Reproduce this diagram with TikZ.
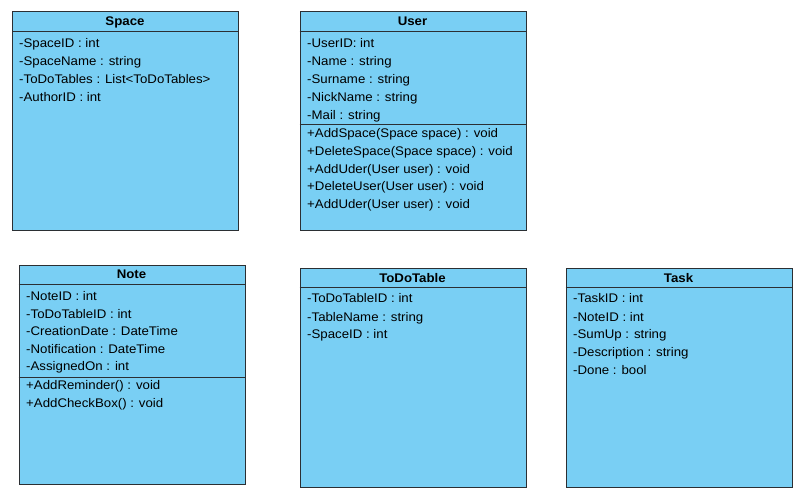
\documentclass[tikz,border=0pt]{standalone}
\usepackage{fontspec}
\setmainfont{Liberation Sans}[FakeStretch=1.06]
\definecolor{boxfill}{HTML}{79CFF4}
\definecolor{boxline}{HTML}{2B2F33}
\begin{document}
\begin{tikzpicture}[x=1pt,y=-1pt,
  classbox/.style={draw=boxline, fill=boxfill, line width=1pt, rectangle, anchor=north west, inner sep=0pt},
  sepline/.style={draw=boxline, line width=1pt},
  attr/.style={anchor=base west, inner sep=0pt, font=\fontsize{12.5}{14}\selectfont},
  title/.style={anchor=base, inner sep=0pt, font=\fontsize{12.5}{14}\selectfont\bfseries}]
\useasboundingbox (0,0) rectangle (805,499);
\fill[white] (0,0) rectangle (805,499);

% Space
\node[classbox, minimum width=226pt, minimum height=219pt] (space) at (12,11) {};
\draw[sepline] ([yshift=-20.5pt]space.north west) -- ([yshift=-20.5pt]space.north east);
\node[title] (spaceT) at (125,25) {Space};
\node[attr] (s1) at (19,47) {-SpaceID : int};
\node[attr] (s2) at (19,65) {-SpaceName : string};
\node[attr] (s3) at (19,83) {-ToDoTables : List<ToDoTables>};
\node[attr] (s4) at (19,101) {-AuthorID : int};

% User
\node[classbox, minimum width=226pt, minimum height=219pt] (user) at (299.5,11) {};
\draw[sepline] ([yshift=-20.5pt]user.north west) -- ([yshift=-20.5pt]user.north east);
\draw[sepline] ([yshift=-113pt]user.north west) -- ([yshift=-113pt]user.north east);
\node[title] (userT) at (412.5,25) {User};
\node[attr] (u1) at (307,47) {-UserID: int};
\node[attr] (u2) at (307,65) {-Name : string};
\node[attr] (u3) at (307,83) {-Surname : string};
\node[attr] (u4) at (307,101) {-NickName : string};
\node[attr] (u5) at (307,119) {-Mail : string};
\node[attr] (u6) at (307,137) {+AddSpace(Space space) : void};
\node[attr] (u7) at (307,155) {+DeleteSpace(Space space) : void};
\node[attr] (u8) at (307,173) {+AddUder(User user) : void};
\node[attr] (u9) at (307,190.5) {+DeleteUser(User user) : void};
\node[attr] (u10) at (307,208.5) {+AddUder(User user) : void};

% Note
\node[classbox, minimum width=226pt, minimum height=219pt] (note) at (18.5,264.5) {};
\draw[sepline] ([yshift=-20pt]note.north west) -- ([yshift=-20pt]note.north east);
\draw[sepline] ([yshift=-113pt]note.north west) -- ([yshift=-113pt]note.north east);
\node[title] (noteT) at (131.5,278) {Note};
\node[attr] (n1) at (26,300) {-NoteID : int};
\node[attr] (n2) at (26,318) {-ToDoTableID : int};
\node[attr] (n3) at (26,335.5) {-CreationDate : DateTime};
\node[attr] (n4) at (26,353) {-Notification : DateTime};
\node[attr] (n5) at (26,370.5) {-AssignedOn : int};
\node[attr] (n6) at (26,389.5) {+AddReminder() : void};
\node[attr] (n7) at (26,407) {+AddCheckBox() : void};

% ToDoTable
\node[classbox, minimum width=226pt, minimum height=219pt] (todo) at (299.5,267.5) {};
\draw[sepline] ([yshift=-20pt]todo.north west) -- ([yshift=-20pt]todo.north east);
\node[title] (todoT) at (412.5,282) {ToDoTable};
\node[attr] (t1) at (307,302.5) {-ToDoTableID : int};
\node[attr] (t2) at (307,321) {-TableName : string};
\node[attr] (t3) at (307,338.5) {-SpaceID : int};

% Task
\node[classbox, minimum width=226pt, minimum height=219pt] (task) at (565.5,267.5) {};
\draw[sepline] ([yshift=-20pt]task.north west) -- ([yshift=-20pt]task.north east);
\node[title] (taskT) at (678.5,282) {Task};
\node[attr] (k1) at (573,302.5) {-TaskID : int};
\node[attr] (k2) at (573,321) {-NoteID : int};
\node[attr] (k3) at (573,338.5) {-SumUp : string};
\node[attr] (k4) at (573,356.5) {-Description : string};
\node[attr] (k5) at (573,374) {-Done : bool};
\end{tikzpicture}
\end{document}
